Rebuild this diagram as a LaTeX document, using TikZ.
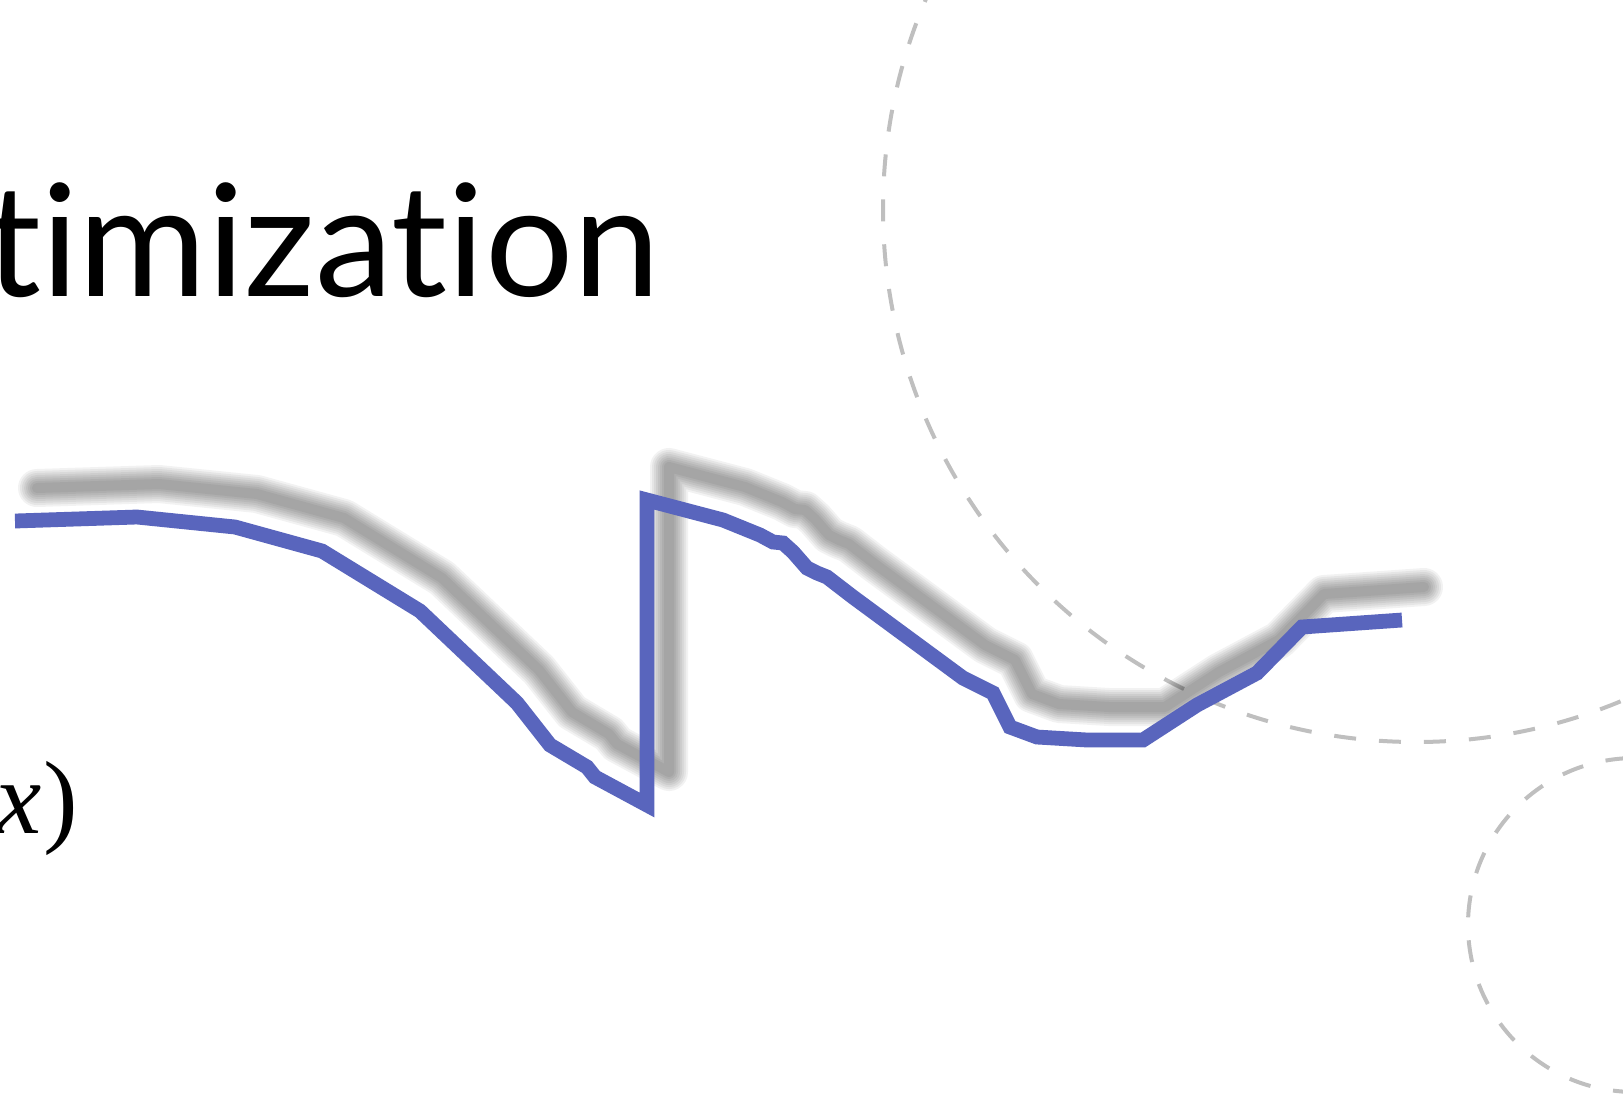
\documentclass[tikz,border=0pt]{standalone}
\usepackage{fontspec}
\newfontfamily\titlefont[Ligatures={NoCommon,NoContextual}]{Lato}
\newfontfamily\formulafont{Liberation Serif}
\definecolor{curveblue}{RGB}{89,101,189}
\newcommand\curvepath{(15,521) -- (137,517) -- (235,527) -- (322,551) -- (420,611) -- (517,703) -- (550,745) -- (587,767) -- (595,777) -- (647,805) -- (647,500) -- (723,520) -- (760,535) -- (773,542) -- (783,543) -- (793,552) -- (807,568) -- (817,573) -- (827,577) -- (853,597) -- (963,678) -- (993,693) -- (1010,727) -- (1037,737) -- (1087,740) -- (1143,740) -- (1197,705) -- (1257,673) -- (1302,627) -- (1402,620)}
\tikzset{
  curveline/.style={draw=curveblue, line width=7.4pt, line join=miter},
  shadowline/.style={draw=black, line cap=round, line join=round},
  dashcirc/.style={draw=black, draw opacity=0.25, line width=2pt, dash pattern=on 11pt off 11.5pt},
  titletext/.style={anchor=base west, inner sep=0pt, font=\titlefont\fontsize{78pt}{82pt}\selectfont},
  formulatext/.style={anchor=base west, inner sep=0pt, font=\formulafont\fontsize{52pt}{56pt}\selectfont}
}
\begin{document}
\begin{tikzpicture}[x=0.5pt,y=-0.5pt]
\useasboundingbox (0,0) rectangle (1623,1094);
\clip (0,0) rectangle (1623,1094);
\fill[white] (0,0) rectangle (1623,1094);
% blurred shadow
\begin{scope}[shift={(22,-33)}]
\foreach \lw in {19pt,17pt,15pt,13pt,11pt,9pt,7pt,5pt}{
  \draw[shadowline, line width=\lw, draw opacity=0.05] \curvepath;
}
\end{scope}
% dashed circles
\draw[dashcirc] (1416,209) circle[radius=266.5pt];
\draw[dashcirc] (1635,925) circle[radius=83.5pt];
% main curve
\draw[curveline] \curvepath;
% texts
\node[titletext] (title) at (-15,296) {timization};
\node[formulatext] (fx) at (-5,833) {\itshape x\upshape\hspace{1pt})};
\end{tikzpicture}
\end{document}
